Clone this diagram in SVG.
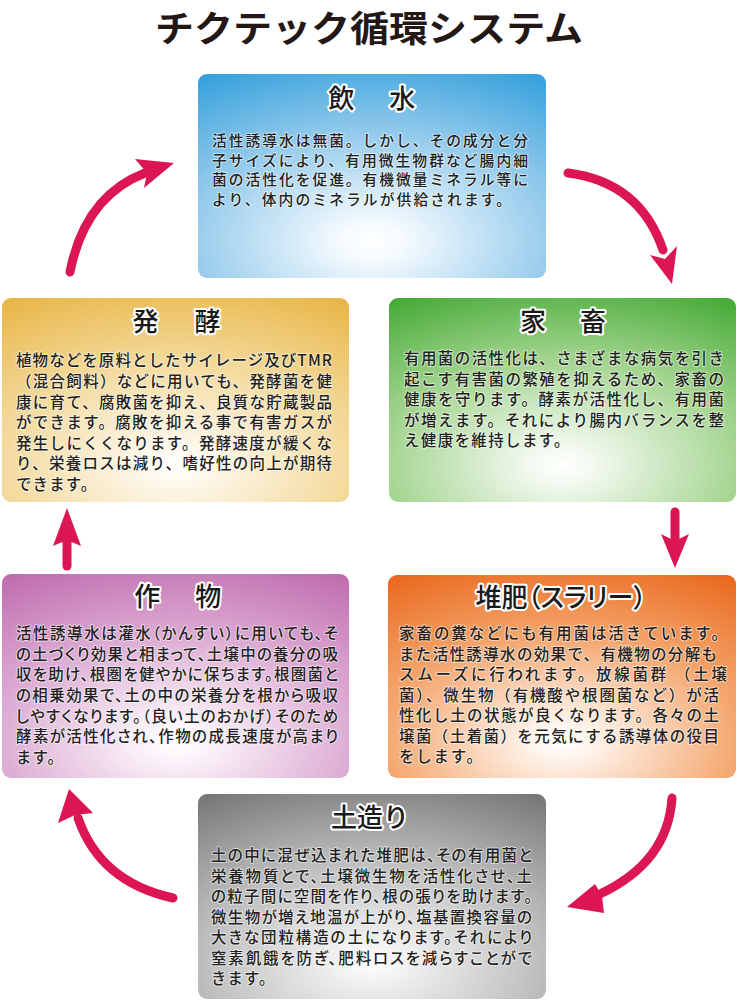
<svg xmlns="http://www.w3.org/2000/svg" width="739" height="1000" viewBox="0 0 739 1000">
<defs>
<style>
text{font-family:"Noto Sans CJK JP","Noto Sans CJK SC",sans-serif;}
.h{font-size:36px;font-weight:700;fill:#231815;}
.t{font-size:26px;font-weight:500;fill:#1a1a1a;stroke:#fff;stroke-width:4px;stroke-linejoin:round;paint-order:stroke;text-anchor:middle;}
.b{font-size:15.5px;font-weight:500;fill:#231f20;stroke:#fff;stroke-width:2px;stroke-opacity:0.55;stroke-linejoin:round;paint-order:stroke;}
.s{font-size:14.8px;}
.p{font-feature-settings:"palt" 1;}
.arr{fill:none;stroke:#dc1553;stroke-width:9;stroke-linecap:round;}
.ah{fill:#dc1553;}
</style>
<radialGradient id="gBlue" cx="0.5" cy="0.82" r="0.95">
<stop offset="0" stop-color="#ffffff"/><stop offset="0.1" stop-color="#f4fafe"/><stop offset="0.55" stop-color="#95cbec"/><stop offset="1" stop-color="#33a0dc"/>
</radialGradient>
<radialGradient id="gGold" cx="0.5" cy="0.82" r="0.95">
<stop offset="0" stop-color="#ffffff"/><stop offset="0.1" stop-color="#fdf8ec"/><stop offset="0.55" stop-color="#f3d898"/><stop offset="1" stop-color="#e8b545"/>
</radialGradient>
<radialGradient id="gGreen" cx="0.5" cy="0.82" r="0.95">
<stop offset="0" stop-color="#ffffff"/><stop offset="0.1" stop-color="#f2f9ef"/><stop offset="0.55" stop-color="#a2d48e"/><stop offset="1" stop-color="#44aa35"/>
</radialGradient>
<radialGradient id="gPurple" cx="0.5" cy="0.82" r="0.95">
<stop offset="0" stop-color="#ffffff"/><stop offset="0.1" stop-color="#fbf3f9"/><stop offset="0.55" stop-color="#dcaad3"/><stop offset="1" stop-color="#bf6bad"/>
</radialGradient>
<radialGradient id="gOrange" cx="0.5" cy="0.82" r="0.95">
<stop offset="0" stop-color="#ffffff"/><stop offset="0.1" stop-color="#fef3ea"/><stop offset="0.55" stop-color="#f4a56c"/><stop offset="1" stop-color="#e9681c"/>
</radialGradient>
<radialGradient id="gGray" cx="0.5" cy="0.82" r="0.95">
<stop offset="0" stop-color="#ffffff"/><stop offset="0.1" stop-color="#f2f2f2"/><stop offset="0.55" stop-color="#b9b9b9"/><stop offset="1" stop-color="#767676"/>
</radialGradient>
</defs>
<rect width="739" height="1000" fill="#fff"/>
<text id="title" class="h" x="155" y="42" textLength="428" lengthAdjust="spacingAndGlyphs">チクテック循環システム</text>

<g id="node-insui">
<rect x="198" y="74" width="348" height="204" rx="9" fill="url(#gBlue)"/>
<text class="t" x="374" y="108" letter-spacing="4.5">飲　水</text>
<text class="b s" x="212" y="146" textLength="316">活性誘導水は無菌。しかし、その成分と分</text>
<text class="b s" x="212" y="165.5" textLength="316">子サイズにより、有用微生物群など腸内細</text>
<text class="b s" x="212" y="185" textLength="316">菌の活性化を促進。有機微量ミネラル等に</text>
<text class="b s" x="212" y="204.5" textLength="299">より、体内のミネラルが供給されます。</text>
</g>

<g id="node-kachiku">
<rect x="389" y="298" width="347" height="204" rx="9" fill="url(#gGreen)"/>
<text class="t" x="565" y="331" letter-spacing="4">家　畜</text>
<text class="b" x="404" y="364" textLength="320">有用菌の活性化は、さまざまな病気を引き</text>
<text class="b" x="404" y="384.5" textLength="320">起こす有害菌の繁殖を抑えるため、家畜の</text>
<text class="b" x="404" y="405" textLength="320">健康を守ります。酵素が活性化し、有用菌</text>
<text class="b" x="404" y="425.5" textLength="320">が増えます。それにより腸内バランスを整</text>
<text class="b" x="404" y="446" letter-spacing="1.34">え健康を維持します。</text>
</g>

<g id="node-taihi">
<rect x="388" y="575" width="348" height="203" rx="9" fill="url(#gOrange)"/>
<text class="t p" x="561" y="607">堆肥（スラリー）</text>
<text class="b" x="399" y="639" textLength="328">家畜の糞などにも有用菌は活きています。</text>
<text class="b" x="399" y="659.5" textLength="318">また活性誘導水の効果で、有機物の分解も</text>
<text class="b" x="399" y="680" textLength="328">スムーズに行われます。放線菌群 （土壌</text>
<text class="b" x="399" y="700.5" textLength="320">菌）、微生物（有機酸や根圏菌など）が活</text>
<text class="b" x="399" y="721" textLength="320">性化し土の状態が良くなります。各々の土</text>
<text class="b" x="399" y="741.5" textLength="320">壌菌（土着菌）を元気にする誘導体の役目</text>
<text class="b" x="399" y="762" letter-spacing="1.76">をします。</text>
</g>

<g id="node-tsuchi">
<rect x="198" y="794" width="348" height="205" rx="9" fill="url(#gGray)"/>
<text class="t" x="370" y="827">土造り</text>
<text class="b p" x="211" y="861" textLength="321">土の中に混ぜ込まれた堆肥は、その有用菌と</text>
<text class="b p" x="211" y="881.5" textLength="321">栄養物質とで、土壌微生物を活性化させ、土</text>
<text class="b p" x="211" y="902" textLength="321">の粒子間に空間を作り、根の張りを助けます。</text>
<text class="b p" x="211" y="922.5" textLength="321">微生物が増え地温が上がり、塩基置換容量の</text>
<text class="b p" x="211" y="943" textLength="321">大きな団粒構造の土になります。それにより</text>
<text class="b p" x="211" y="963.5" textLength="321">窒素飢餓を防ぎ、肥料ロスを減らすことがで</text>
<text class="b" x="211" y="984" letter-spacing="1">きます。</text>
</g>

<g id="node-sakumotsu">
<rect x="2" y="574" width="347" height="204" rx="9" fill="url(#gPurple)"/>
<text class="t" x="180" y="606" letter-spacing="4.5">作　物</text>
<text class="b p" x="16" y="639" textLength="322">活性誘導水は灌水（かんすい）に用いても、そ</text>
<text class="b p" x="16" y="659.5" textLength="322">の土づくり効果と相まって、土壌中の養分の吸</text>
<text class="b p" x="16" y="680" textLength="322">収を助け、根圏を健やかに保ちます。根圏菌と</text>
<text class="b p" x="16" y="701" textLength="322">の相乗効果で、土の中の栄養分を根から吸収</text>
<text class="b p" x="16" y="721.5" textLength="322">しやすくなります。（良い土のおかげ）そのため</text>
<text class="b p" x="16" y="742" textLength="322">酵素が活性化され、作物の成長速度が高まり</text>
<text class="b" x="16" y="763" letter-spacing="1">ます。</text>
</g>

<g id="node-hakko">
<rect x="2" y="298" width="347" height="204" rx="9" fill="url(#gGold)"/>
<text class="t" x="179" y="331" letter-spacing="5">発　酵</text>
<text class="b" x="16" y="366" textLength="316">植物などを原料としたサイレージ及びTMR</text>
<text class="b" x="16" y="387" textLength="316">（混合飼料）などに用いても、発酵菌を健</text>
<text class="b" x="16" y="407.5" textLength="316">康に育て、腐敗菌を抑え、良質な貯蔵製品</text>
<text class="b" x="16" y="428" textLength="316">ができます。腐敗を抑える事で有害ガスが</text>
<text class="b" x="16" y="448.5" textLength="316">発生しにくくなります。発酵速度が緩くな</text>
<text class="b" x="16" y="469" textLength="316">り、栄養ロスは減り、嗜好性の向上が期待</text>
<text class="b" x="16" y="490" letter-spacing="1.08">できます。</text>
</g>

<g id="connectors">
<path class="arr" d="M70,272 Q85,196 145,173"/>
<polygon class="ah" points="174,163 135,159 147,173 144,188"/>
<path class="arr" d="M568,173 Q640,182 663,250"/>
<polygon class="ah" points="672,284 650,255 665,259 677,246"/>
<path class="arr" d="M675,512 L675,540"/>
<polygon class="ah" points="675,568 661,534 675,541 689,534"/>
<path class="arr" d="M672,798 Q668,862 600,894"/>
<polygon class="ah" points="567,907 595,884 602,896 604,913"/>
<path class="arr" d="M173,898 Q100,882 78,818"/>
<polygon class="ah" points="69,789 58,823 75,815 93,813"/>
<path class="arr" d="M67,566 L67,540"/>
<polygon class="ah" points="67,508 53,546 67,540 81,546"/>
</g>
</svg>
